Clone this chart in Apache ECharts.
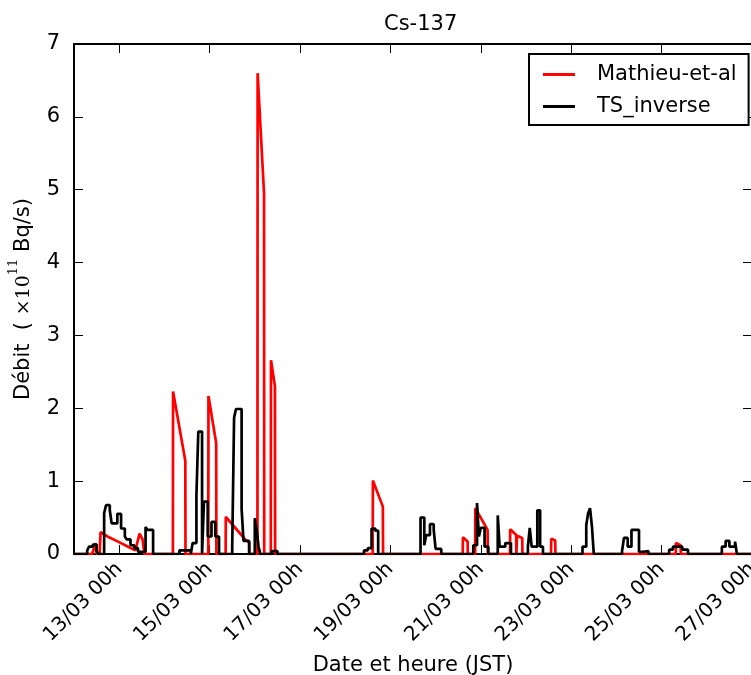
<!DOCTYPE html>
<html>
<head>
<meta charset="utf-8">
<script src="https://cdn.jsdelivr.net/npm/echarts@6/dist/echarts.min.js"></script>
<style>
  html, body { margin: 0; padding: 0; background: #fff; }
  #chart { width: 751px; height: 675px; }
</style>
</head>
<body>
<div id="chart"></div>
<script>
// Time is given in hours since 12/03 00h (JST); release rates in 1e11 Bq/s.

// Mathieu-et-al source term (piecewise linear)
const redHours = [0, 9.6, 11.5, 12.0, 13.6, 14.1, 17.8, 24.2, 29.5, 32.6, 34.8, 36.4, 37.4,
  52.5, 52.6, 59.1, 59.2, 71.3, 71.4, 75.5, 75.6,
  80.5, 80.6, 85.9, 91.2, 93.0, 93.1,
  97.4, 97.5, 100.9, 101.0, 104.5, 104.6, 106.7, 106.8,
  158.6, 158.7, 164.0, 164.1,
  206.4, 206.5, 209.0, 209.1, 213.0, 213.1, 219.6, 219.7,
  231.5, 231.6, 234.8, 234.9, 235.1, 235.2, 238.0, 238.1,
  253.3, 253.4, 255.5, 255.6,
  319.5, 319.6, 322.1, 322.2, 360];
const redValues = [0, 0, 0.15, 0, 0, 0.30, 0.24, 0.16, 0.09, 0.05, 0.28, 0.20, 0,
  0, 2.23, 1.28, 0, 0, 2.17, 1.52, 0,
  0, 0.51, 0.35, 0.19, 0.16, 0,
  0, 6.60, 4.95, 0, 0, 2.66, 2.30, 0,
  0, 1.01, 0.65, 0,
  0, 0.23, 0.17, 0, 0, 0.63, 0.33, 0,
  0, 0.34, 0.26, 0, 0, 0.25, 0.22, 0,
  0, 0.21, 0.19, 0,
  0, 0.15, 0.12, 0, 0];

// TS_inverse source term (step function, value holds from each start hour)
const blackHours = [0, 7, 8, 10, 12, 13, 16, 17, 19, 20, 23, 25, 27, 28, 30, 32, 34, 38, 39, 42,
  56, 62, 63, 65, 66, 68, 69, 71, 73, 75, 77,
  84, 85, 86, 89, 90, 93,
  96, 97, 98, 99, 105, 108,
  154, 156, 158, 160, 161.5,
  184, 186, 187, 189, 191, 192, 195,
  212, 214, 215, 216, 218, 220,
  225, 226, 229, 232,
  241, 242, 243, 246, 247.5, 249,
  270, 272, 273, 274, 275, 276,
  291, 292, 294, 296, 300, 302, 305,
  316, 318, 323, 326,
  344, 346, 348, 351, 352, 360];
const blackValues = [0, 0.05, 0.10, 0.13, 0.04, 0, 0.56, 0.67, 0.60, 0.42, 0.55, 0.35, 0.24, 0.20, 0.12, 0.08, 0.03, 0.37, 0.33, 0,
  0.05, 0, 0.15, 0.80, 1.68, 0, 0.72, 0.24, 0.44, 0.24, 0,
  0.08, 1.87, 1.99, 0.62, 0.18, 0,
  0.49, 0.33, 0.10, 0, 0.04, 0,
  0.05, 0.08, 0.35, 0.32, 0,
  0.50, 0.12, 0.26, 0.41, 0.33, 0.07, 0,
  0.12, 0.70, 0.24, 0.36, 0.10, 0,
  0.53, 0.10, 0.15, 0,
  0.10, 0.36, 0.10, 0.60, 0.10, 0,
  0.10, 0.40, 0.56, 0.63, 0.38, 0,
  0.04, 0.22, 0.10, 0.33, 0.03, 0.04, 0,
  0.06, 0.10, 0.06, 0,
  0.10, 0.18, 0.10, 0.17, 0, 0];

// Axis ticks: every two days from 13/03 00h
const tickHours = [24, 72, 120, 168, 216, 264, 312, 360];

const pair = (xs, ys) => xs.map((x, i) => [x, ys[i]]);
const pad2 = n => (n < 10 ? '0' : '') + n;
const dateLabel = h => pad2(12 + Math.round(h / 24)) + '/03 00h';

const FONT = 'DejaVu Sans';
const FS = 21;
const chart = echarts.init(document.getElementById('chart'), null, { renderer: 'canvas' });

const xCommon = {
  type: 'value', min: 0, max: 360,
  splitLine: { show: false },
  axisLine: { show: true, onZero: false, lineStyle: { color: '#000', width: 2 } },
  axisTick: { show: true, inside: true, length: 9, customValues: tickHours, lineStyle: { color: '#000', width: 1 } }
};
const yCommon = {
  type: 'value', min: 0, max: 7, interval: 1,
  splitLine: { show: false },
  axisLine: { show: true, onZero: false, lineStyle: { color: '#000', width: 2 } },
  axisTick: { show: true, inside: true, length: 9, lineStyle: { color: '#000', width: 1 } }
};

chart.setOption({
  animation: false,
  backgroundColor: '#fff',
  title: {
    text: 'Cs-137', left: 379, top: 9,
    textStyle: { fontFamily: FONT, fontSize: FS, fontWeight: 'normal', color: '#000' }
  },
  grid: { left: 74, top: 44, width: 678, height: 510, containLabel: false, outerBoundsMode: 'none' },
  legend: {
    orient: 'vertical', left: 529, top: 54,
    padding: [10, 12, 8, 14], itemGap: 11, itemWidth: 32, itemHeight: 3,
    icon: 'rect',
    borderColor: '#000', borderWidth: 2, backgroundColor: '#fff',
    textStyle: { fontFamily: FONT, fontSize: FS, color: '#000', padding: [0, 0, 0, 17] },
    data: ['Mathieu-et-al', 'TS_inverse']
  },
  xAxis: [
    Object.assign({}, xCommon, {
      position: 'bottom',
      name: 'Date et heure (JST)', nameLocation: 'middle', nameGap: 101,
      nameTextStyle: { fontFamily: FONT, fontSize: FS, color: '#000' },
      axisLabel: {
        show: true, rotate: 45, margin: 12, customValues: tickHours,
        fontFamily: FONT, fontSize: FS - 1, color: '#000',
        formatter: v => dateLabel(v)
      }
    }),
    Object.assign({}, xCommon, { position: 'top', axisLabel: { show: false } })
  ],
  yAxis: [
    Object.assign({}, yCommon, {
      position: 'left',
      name: '{a|Débit  ( }{m|×10}{s|11}{a| Bq/s)}', nameLocation: 'middle', nameGap: 40, nameRotate: 90,
      nameTextStyle: {
        rich: {
          a: { fontFamily: FONT, fontSize: FS, lineHeight: 27, verticalAlign: 'bottom', color: '#000' },
          m: { fontFamily: 'DejaVu Serif', fontSize: FS - 2, lineHeight: 27, verticalAlign: 'bottom', color: '#000' },
          s: { fontFamily: 'DejaVu Serif', fontSize: 13, lineHeight: 13, verticalAlign: 'top', color: '#000' }
        }
      },
      axisLabel: { show: true, margin: 14, fontFamily: FONT, fontSize: FS, color: '#000' }
    }),
    Object.assign({}, yCommon, { position: 'right', axisLabel: { show: false } })
  ],
  series: [
    {
      name: 'Mathieu-et-al', type: 'line', xAxisIndex: 0, yAxisIndex: 0,
      data: pair(redHours, redValues),
      symbol: 'none', showSymbol: false, clip: true,
      lineStyle: { color: '#ff0000', width: 2.7 }, itemStyle: { color: '#ff0000' },
      z: 2
    },
    {
      name: 'TS_inverse', type: 'line', xAxisIndex: 0, yAxisIndex: 0,
      data: pair(blackHours, blackValues), step: 'end',
      symbol: 'none', showSymbol: false, clip: true,
      lineStyle: { color: '#000000', width: 2.7 }, itemStyle: { color: '#000000' },
      z: 3
    }
  ]
});
</script>
</body>
</html>
